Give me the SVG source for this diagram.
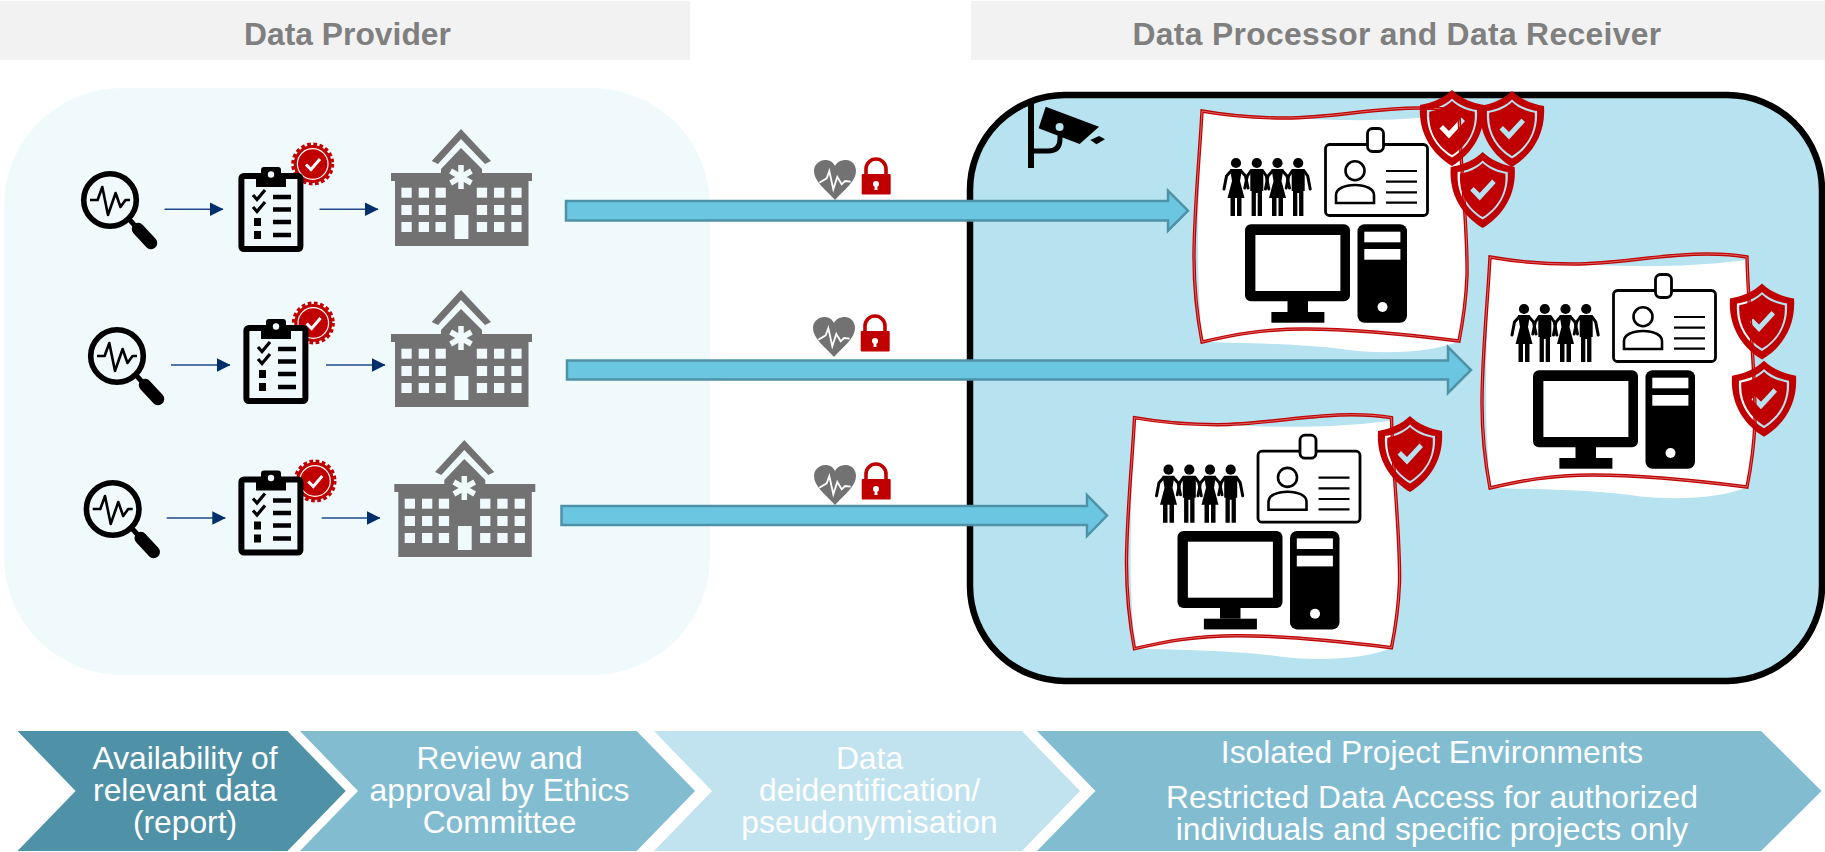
<svg xmlns="http://www.w3.org/2000/svg" width="1825" height="852" viewBox="0 0 1825 852">
<style>
.hdr{fill:#f2f2f2}
.hdrt{font:bold 31.8px "Liberation Sans",Arial,sans-serif;fill:#7f7f7f;text-anchor:middle}
.cht{font:31.8px "Liberation Sans",Arial,sans-serif;fill:#fff;text-anchor:middle}
.big{fill:#6bc6e2;stroke:#4f92a8;stroke-width:2.5}
.small{stroke:#1f4a84;stroke-width:1.5;fill:none;marker-end:url(#tri)}
.red{fill:#c00000}
.gray{fill:#727272}
.pan{fill:#f0fafd}
</style>
<defs>
<marker id="tri" markerUnits="userSpaceOnUse" markerWidth="14" markerHeight="14" refX="13" refY="7" orient="auto"><path d="M0,0.3 L13.5,7 L0,13.7Z" fill="#002f6c"/></marker>
<g id="mag">
<circle cx="110" cy="200" r="26.3" fill="none" stroke="#000" stroke-width="5.6"/>
<path d="M90,200H97.6L102.3,187L108,215L115.6,193L120.5,207L125.5,200H130" fill="none" stroke="#000" stroke-width="2.6" stroke-linejoin="round"/>
<path d="M128,218L137,228" stroke="#000" stroke-width="5"/>
<path d="M138,229L151,243" stroke="#000" stroke-width="12.5" stroke-linecap="round"/>
</g>
<g id="clip">
<rect x="241.4" y="176" width="59" height="73" rx="2.5" class="pan" stroke="#000" stroke-width="6"/>
<path d="M256,174H261V170Q261,167 264,167H278Q281,167 281,170V174H286V187H256Z"/>
<circle cx="271" cy="174.5" r="3.2" fill="#f0fafd"/>
<path d="M253,195L257,199.5L265,190M253,207L257,211.5L265,202" fill="none" stroke="#000" stroke-width="3.2"/>
<rect x="254" y="218" width="7" height="8"/><rect x="254" y="231" width="7" height="8"/>
<path d="M273,197H291M273,209.5H291M273,222H291M273,235H291" stroke="#000" stroke-width="4.4"/>
</g>
<g id="seal">
<circle cx="312.7" cy="164" r="19"/>
<circle cx="312.7" cy="164" r="19.5" fill="none" stroke="#c00000" stroke-width="4" stroke-dasharray="3.6 2.53"/>
<circle cx="312.7" cy="164" r="15.3" fill="none" stroke="#fff" stroke-width="1.2"/>
<path d="M306,164.5L311,169.5L320,159" fill="none" stroke="#fff" stroke-width="3"/>
</g>
<g id="hosp">
<path class="gray" d="M461,129L491,161L485,164L461,139L438,164L431.7,161Z"/>
<path class="gray" d="M461,148L482,169V173H532V181H528.5V246H395V181H391V173H441V169Z"/>
<path d="M461,165V189M450.6,171L471.4,183M471.4,171L450.6,183" stroke="#f0fafd" stroke-width="5.5"/>
<g class="pan">
<rect x="401.4" y="187.7" width="10.3" height="10"/><rect x="418.7" y="187.7" width="10.3" height="10"/><rect x="435.5" y="187.7" width="10.3" height="10"/><rect x="476.8" y="187.7" width="10.3" height="10"/><rect x="494" y="187.7" width="10.3" height="10"/><rect x="511.3" y="187.7" width="10.3" height="10"/>
<rect x="401.4" y="205" width="10.3" height="10"/><rect x="418.7" y="205" width="10.3" height="10"/><rect x="435.5" y="205" width="10.3" height="10"/><rect x="476.8" y="205" width="10.3" height="10"/><rect x="494" y="205" width="10.3" height="10"/><rect x="511.3" y="205" width="10.3" height="10"/>
<rect x="401.4" y="222" width="10.3" height="10"/><rect x="418.7" y="222" width="10.3" height="10"/><rect x="435.5" y="222" width="10.3" height="10"/><rect x="476.8" y="222" width="10.3" height="10"/><rect x="494" y="222" width="10.3" height="10"/><rect x="511.3" y="222" width="10.3" height="10"/>
<rect x="454.6" y="215" width="13.8" height="24"/>
</g>
</g>
<g id="sec">
<path class="gray" d="M835,199C825,188 814,180 814,170C814,163 820,159 825,159C830,159 833,161 835,165C837,161 841,159 846,159C852,159 856,164 856,170C856,180 845,188 835,199Z"/>
<path d="M819.3,181.7L826.7,177.3L829.3,170L833.3,188.3L837.3,176L841.7,183.3L845,180L850.7,180.7" fill="none" stroke="#fff" stroke-width="1.8"/>
<path d="M866,174V168a10,10 0 0 1 20,0V174" fill="none" stroke="#c00000" stroke-width="3.6"/>
<rect x="861.7" y="173" width="29" height="20.5" rx="1" class="red"/>
<circle cx="876" cy="183" r="3" fill="#fff"/><path d="M875,184H877L877.6,189H874.4Z" fill="#fff"/>
</g>
<path id="shield" class="red" fill-rule="evenodd" d="M0,-38C8,-30 20,-25 32,-23C34,5 20,26 0,38C-20,26 -34,5 -32,-23C-20,-25 -8,-30 0,-38Z M0,-29.6C6.2,-23.4 15.6,-19.5 25,-17.9C26.5,3.9 15.6,20.3 0,29.6C-15.6,20.3 -26.5,3.9 -25,-17.9C-15.6,-19.5 -6.2,-23.4 0,-29.6Z M0,-27C5.7,-21.3 14.2,-17.8 22.7,-16.3C24.1,3.6 14.2,18.5 0,27C-14.2,18.5 -24.1,3.6 -22.7,-16.3C-14.2,-17.8 -5.7,-21.3 0,-27Z M-12.5,0.5L-9,-3L-3,3L9.5,-10.5L13,-7L-3,10.5Z"/>
<g id="fig-f"><circle cx="0" cy="52" r="5.1"/><path d="M-6,58H6L4,70L8.5,87H5.5V105H1V87H-1V105H-5.5V87H-8.5L-4,70Z"/><path d="M-5,60L-9.5,65L-12,78M5,60L9.5,65L12,77" fill="none" stroke="#000" stroke-width="3" stroke-linecap="round" stroke-linejoin="round"/></g>
<g id="fig-m"><circle cx="0" cy="52" r="5.1"/><path d="M-6.5,58H6.5V80H5.2V105H0.9V82H-0.9V105H-5.2V80H-6.5Z"/><path d="M-6,60L-9.5,65L-12,77M6,60L9.5,65L12,78" fill="none" stroke="#000" stroke-width="3" stroke-linecap="round" stroke-linejoin="round"/></g>
<g id="work">
<path fill="#fff" d="M0,0C28,5 55,7 83,7C130,9 185,12 257,3C258,50 266,120 265,165C264,190 260,215 257,230C230,242 180,244 140,238C90,232 30,232 0,231C-2,200 -4,170 -4,146C-4,100 -2,40 0,0Z"/>
<path fill="none" stroke="#c00000" stroke-width="3.4" d="M0,0C28,5 55,7 83,7C130,7 170,-3 217,-3C232,-3 246,-2 257,0C258,50 266,120 265,165C264,190 260,215 257,230C210,224 150,218 103,218C60,218 30,224 0,231C-5,205 -8,170 -8,146C-8,100 -2,40 0,0Z"/>
<path fill="none" stroke="#fff" stroke-width="0.4" d="M0,0C28,5 55,7 83,7C130,7 170,-3 217,-3C232,-3 246,-2 257,0C258,50 266,120 265,165C264,190 260,215 257,230C210,224 150,218 103,218C60,218 30,224 0,231C-5,205 -8,170 -8,146C-8,100 -2,40 0,0Z"/>
<use href="#fig-f" x="34"/><use href="#fig-m" x="54.8"/><use href="#fig-f" x="75.5"/><use href="#fig-m" x="96.2"/>
<rect x="123.5" y="33.5" width="102" height="71" rx="4" fill="none" stroke="#000" stroke-width="2.8"/>
<rect x="165.5" y="17.5" width="16" height="23" rx="5" fill="#fff" stroke="#000" stroke-width="2.8"/>
<circle cx="153" cy="59.7" r="9.5" fill="none" stroke="#000" stroke-width="2.6"/>
<path d="M134,92V84C134,78 142,74 153,74C164,74 172,78 172,84V92Z" fill="none" stroke="#000" stroke-width="2.6"/>
<path d="M184,60H215M184,70.7H215M184,81.3H215M184,91.7H215" stroke="#000" stroke-width="2.2"/>
<rect x="43" y="113.3" width="105" height="77" rx="6"/>
<rect x="53.4" y="124" width="85" height="56" fill="#fff"/>
<rect x="85.5" y="190" width="20.5" height="11"/>
<rect x="69.4" y="201" width="53" height="10.7"/>
<rect x="155.5" y="113.3" width="49.5" height="98.4" rx="7"/>
<rect x="162.3" y="120.7" width="36.1" height="10.6" fill="#fff"/>
<rect x="162.3" y="138" width="36.1" height="10.7" fill="#fff"/>
<circle cx="180.5" cy="196" r="5" fill="#fff"/>
</g>
</defs>
<rect width="1825" height="852" fill="#fff"/>
<g id="header-provider"><rect class="hdr" x="0" y="1" width="690" height="59"/><text class="hdrt" x="347.5" y="45">Data Provider</text></g>
<g id="header-processor"><rect class="hdr" x="971" y="1" width="854" height="59"/><text class="hdrt" x="1397" y="45" style="letter-spacing:0.35px">Data Processor and Data Receiver</text></g>
<g id="provider-panel"><rect class="pan" x="4" y="88" width="706" height="587" rx="118"/></g>
<g id="processor-panel"><rect x="970" y="95" width="852" height="586" rx="95" fill="#b7e2f0" stroke="#000" stroke-width="6.5"/></g>
<g id="camera">
<path d="M1031,103V168" stroke="#000" stroke-width="6"/>
<path d="M1031,151H1048Q1060,151 1060,139V130" fill="none" stroke="#000" stroke-width="5"/>
<path d="M1045.7,106.7L1099,126.7L1079.6,144L1038.6,128.3Z"/>
<circle cx="1059.6" cy="127" r="4" fill="#b7e2f0"/>
<path d="M1099,136L1105,139.3L1096.4,144.3L1090.4,140Z"/>
</g>
<g id="row1-source"><use href="#mag"/><use href="#seal" class="red"/><use href="#clip"/><use href="#hosp"/></g>
<g id="row2-source"><use href="#mag" x="7" y="156"/><use href="#seal" class="red" x="0.6" y="159"/><use href="#clip" x="5" y="152"/><use href="#hosp" y="161"/></g>
<g id="row3-source"><use href="#mag" x="2.7" y="309"/><use href="#seal" class="red" x="2.3" y="317"/><use href="#clip" y="303.5"/><use href="#hosp" x="3.3" y="311"/></g>
<g id="security-1"><use href="#sec" y="1"/></g>
<g id="security-2"><use href="#sec" x="-1" y="158"/></g>
<g id="security-3"><use href="#sec" x="0" y="306"/></g>
<g id="workstation-1"><use href="#work" x="1202" y="111"/></g>
<g id="workstation-2"><use href="#work" x="1490" y="257"/></g>
<g id="workstation-3"><use href="#work" x="1134.5" y="417.7"/></g>
<g id="shields-1"><use href="#shield" x="1452" y="128"/><use href="#shield" x="1512" y="129"/><use href="#shield" x="1482.7" y="190"/></g>
<g id="shields-2"><use href="#shield" x="1762" y="321.5"/><use href="#shield" x="1764" y="398.7"/></g>
<g id="shields-3"><use href="#shield" x="1410" y="454"/></g>
<g id="connectors">
<path class="big" d="M566,201H1168V190.7L1188,210.7L1168,230.7V220.5H566Z"/>
<path class="big" d="M567,360.5H1448V347L1471,370L1448,393V379.5H567Z"/>
<path class="big" d="M561.5,506H1087V495L1107,515.5L1087,536V525H561.5Z"/>
<path class="small" d="M164.5,209.3H223"/><path class="small" d="M319.5,209.3H378"/>
<path class="small" d="M171,365H230"/><path class="small" d="M326,365H385"/>
<path class="small" d="M166.7,518H225.3"/><path class="small" d="M321.7,518H380"/>
</g>
<g id="step-1"><path fill="#4f91a6" d="M17.5,731H287.5L345.7,791L287.5,851H17.5L75.6,791Z"/><text class="cht" x="185" y="769">Availability of</text><text class="cht" x="185" y="801">relevant data</text><text class="cht" x="185" y="833">(report)</text></g>
<g id="step-2"><path fill="#81bcd1" d="M300,731H636.7L695,791L636.7,851H300L358,791Z"/><text class="cht" x="499.5" y="769">Review and</text><text class="cht" x="499.5" y="801">approval by Ethics</text><text class="cht" x="499.5" y="833">Committee</text></g>
<g id="step-3"><path fill="#c1e3f0" d="M654,731H1022L1080,791L1022,851H654L712,791Z"/><text class="cht" x="869.5" y="769">Data</text><text class="cht" x="869.5" y="801">deidentification/</text><text class="cht" x="869.5" y="833">pseudonymisation</text></g>
<g id="step-4"><path fill="#81bcd1" d="M1037,731H1761L1821.5,791L1761,851H1037L1095.5,791Z"/><text class="cht" x="1432" y="762.5">Isolated Project Environments</text><text class="cht" x="1432" y="808">Restricted Data Access for authorized</text><text class="cht" x="1432" y="840">individuals and specific projects only</text></g>
</svg>
